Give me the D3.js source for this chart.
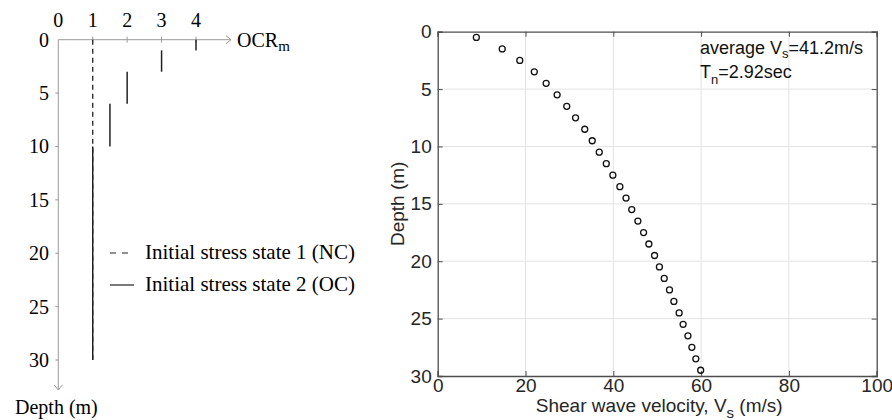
<!DOCTYPE html>
<html>
<head>
<meta charset="utf-8">
<script src="https://cdn.jsdelivr.net/npm/d3@7"></script>
<style>
  body { margin: 0; background: #fff; }
  svg { display: block; }
</style>
</head>
<body>
<div id="chart"></div>
<script>
// ---- left panel data: OCR_m profiles ----
const ocrTicks = [0, 1, 2, 3, 4];
const depthTicksLeft = [0, 5, 10, 15, 20, 25, 30];
// state 1 (NC): OCR = 1 over the whole depth
const ncSegments = [{ ocr: 1, top: 0, bottom: 30 }];
// state 2 (OC): step profile
const ocSegments = [
    { ocr: 4, top: 0, bottom: 1 },
    { ocr: 3, top: 1, bottom: 3 },
    { ocr: 2, top: 3, bottom: 6 },
    { ocr: 1.5, top: 6, bottom: 10 },
    { ocr: 1, top: 10, bottom: 30 }
];
const legendLabels = ['Initial stress state 1 (NC)', 'Initial stress state 2 (OC)'];

// ---- right panel data: shear wave velocity profile ----
const vsDepths = [0.5, 1.5, 2.5, 3.5, 4.5, 5.5, 6.5, 7.5, 8.5, 9.5,
    10.5, 11.5, 12.5, 13.5, 14.5, 15.5, 16.5, 17.5, 18.5, 19.5,
    20.5, 21.5, 22.5, 23.5, 24.5, 25.5, 26.5, 27.5, 28.5, 29.5];
const vsValues = [8.8, 14.7, 18.7, 22.0, 24.7, 27.2, 29.4, 31.4, 33.5, 35.2,
    36.8, 38.4, 39.9, 41.5, 42.9, 44.2, 45.6, 46.9, 48.1, 49.4,
    50.5, 51.6, 52.8, 53.8, 55.0, 55.9, 57.0, 57.9, 58.8, 59.9];
const vsTicks = [0, 20, 40, 60, 80, 100];
const depthTicksRight = [0, 5, 10, 15, 20, 25, 30];

const width = 892, height = 420;
const svg = d3.select('#chart').append('svg')
    .attr('width', width).attr('height', height);

const serif = '"Liberation Serif", "Times New Roman", serif';
const sans = '"Liberation Sans", Arial, sans-serif';
const axisGray = '#9a9a9a';

// ================= left panel =================
const xL = d3.scaleLinear().domain([0, 4]).range([58.3, 196]);
const yL = d3.scaleLinear().domain([0, 30]).range([39.7, 360]);

const left = svg.append('g').attr('class', 'left-panel');

// axis lines with arrows
left.append('line')
    .attr('x1', xL(0)).attr('y1', yL(0)).attr('x2', 231).attr('y2', yL(0))
    .attr('stroke', axisGray).attr('stroke-width', 1);
left.append('path')
    .attr('d', `M${226},${yL(0) - 4} L${231},${yL(0)} L${226},${yL(0) + 4}`)
    .attr('fill', 'none').attr('stroke', axisGray).attr('stroke-width', 1);
left.append('line')
    .attr('x1', xL(0)).attr('y1', yL(0)).attr('x2', xL(0)).attr('y2', 390)
    .attr('stroke', axisGray).attr('stroke-width', 1);
left.append('path')
    .attr('d', `M${xL(0) - 4},${385} L${xL(0)},${390} L${xL(0) + 4},${385}`)
    .attr('fill', 'none').attr('stroke', axisGray).attr('stroke-width', 1);

// x ticks
left.selectAll('.xtick').data(ocrTicks.slice(1)).join('line')
    .attr('x1', d => xL(d)).attr('x2', d => xL(d))
    .attr('y1', yL(0) - 3).attr('y2', yL(0) + 3)
    .attr('stroke', axisGray);
left.selectAll('.xlab').data(ocrTicks).join('text')
    .attr('x', d => xL(d)).attr('y', 27)
    .attr('text-anchor', 'middle')
    .style('font-family', serif).style('font-size', '20px')
    .text(d => d);

// y ticks
left.selectAll('.ytick').data(depthTicksLeft.slice(1)).join('line')
    .attr('x1', xL(0) - 3).attr('x2', xL(0))
    .attr('y1', d => yL(d)).attr('y2', d => yL(d))
    .attr('stroke', axisGray);
left.selectAll('.ylab').data(depthTicksLeft).join('text')
    .attr('x', 49).attr('y', d => yL(d) + 7)
    .attr('text-anchor', 'end')
    .style('font-family', serif).style('font-size', '20px')
    .text(d => d);

// axis titles
const ocrLab = left.append('text')
    .attr('x', 237).attr('y', 47)
    .style('font-family', serif).style('font-size', '20px');
ocrLab.append('tspan').text('OCR');
ocrLab.append('tspan').attr('dy', 4).style('font-size', '15px').text('m');

left.append('text')
    .attr('x', 15).attr('y', 414)
    .style('font-family', serif).style('font-size', '20px')
    .text('Depth (m)');

// profiles
left.selectAll('.nc').data(ncSegments).join('line')
    .attr('x1', d => xL(d.ocr)).attr('x2', d => xL(d.ocr))
    .attr('y1', d => yL(d.top)).attr('y2', d => yL(d.bottom))
    .attr('stroke', '#222').attr('stroke-width', 1.3)
    .attr('stroke-dasharray', '5,4');
left.selectAll('.oc').data(ocSegments).join('line')
    .attr('x1', d => xL(d.ocr)).attr('x2', d => xL(d.ocr))
    .attr('y1', d => yL(d.top)).attr('y2', d => yL(d.bottom))
    .attr('stroke', '#222').attr('stroke-width', 1.5);

// legend
const legend = left.append('g').attr('transform', 'translate(110,253)');
legendLabels.forEach((lab, i) => {
    const g = legend.append('g').attr('transform', `translate(0,${i * 32})`);
    g.append('line')
        .attr('x1', 0).attr('x2', 24).attr('y1', 0).attr('y2', 0)
        .attr('stroke', '#222').attr('stroke-width', 1.2)
        .attr('stroke-dasharray', i === 0 ? '6,6' : null);
    g.append('text')
        .attr('x', 35).attr('y', 6)
        .style('font-family', serif).style('font-size', '21px')
        .text(lab);
});

// ================= right panel =================
const xR = d3.scaleLinear().domain([0, 100]).range([437.7, 876.7]);
const yR = d3.scaleLinear().domain([0, 30]).range([31.7, 376]);

const right = svg.append('g').attr('class', 'right-panel');

// grid
right.selectAll('.gx').data(vsTicks.slice(1, -1)).join('line')
    .attr('x1', d => xR(d)).attr('x2', d => xR(d))
    .attr('y1', yR(0)).attr('y2', yR(30))
    .attr('stroke', '#e3e3e3').attr('stroke-width', 1);
right.selectAll('.gy').data(depthTicksRight.slice(1, -1)).join('line')
    .attr('x1', xR(0)).attr('x2', xR(100))
    .attr('y1', d => yR(d)).attr('y2', d => yR(d))
    .attr('stroke', '#e3e3e3').attr('stroke-width', 1);

// axes (MATLAB style box, ticks inward)
const xAxisB = d3.axisBottom(xR).tickValues(vsTicks).tickSize(-5).tickPadding(2);
const xAxisT = d3.axisTop(xR).tickValues(vsTicks).tickSize(-5).tickFormat('');
const yAxisL = d3.axisLeft(yR).tickValues(depthTicksRight).tickSize(-5).tickPadding(6);
const yAxisR = d3.axisRight(yR).tickValues(depthTicksRight).tickSize(-5).tickFormat('');

const styleAxis = g => {
    g.selectAll('path.domain').attr('stroke', '#4d4d4d').attr('stroke-width', 1.3);
    g.selectAll('.tick line').attr('stroke', '#4d4d4d');
    g.selectAll('.tick text').attr('fill', '#262626')
        .style('font-family', sans).style('font-size', '19px');
};

right.append('g').attr('transform', `translate(0,${yR(30)})`).call(xAxisB).call(styleAxis)
    .selectAll('.tick text').attr('dy', '0.71em');
right.append('g').attr('transform', `translate(0,${yR(0)})`).call(xAxisT).call(styleAxis);
right.append('g').attr('transform', `translate(${xR(0)},0)`).call(yAxisL).call(styleAxis)
    .selectAll('.tick text').attr('dy', '0.32em');
right.append('g').attr('transform', `translate(${xR(100)},0)`).call(yAxisR).call(styleAxis);

// points
const pts = vsDepths.map((d, i) => ({ depth: d, vs: vsValues[i] }));
right.selectAll('circle.pt').data(pts).join('circle')
    .attr('class', 'pt')
    .attr('cx', d => xR(d.vs)).attr('cy', d => yR(d.depth))
    .attr('r', 3)
    .attr('fill', 'none').attr('stroke', '#111').attr('stroke-width', 1.3);

// axis labels
const xlab = right.append('text')
    .attr('x', (xR(0) + xR(100)) / 2 + 2).attr('y', 412)
    .attr('text-anchor', 'middle')
    .attr('fill', '#262626')
    .style('font-family', sans).style('font-size', '19px');
xlab.append('tspan').text('Shear wave velocity, V');
xlab.append('tspan').attr('dy', 6).style('font-size', '15px').text('s');
xlab.append('tspan').attr('dy', -6).text(' (m/s)');

right.append('text')
    .attr('transform', `translate(404,${(yR(0) + yR(30)) / 2}) rotate(-90)`)
    .attr('text-anchor', 'middle')
    .attr('fill', '#262626')
    .style('font-family', sans).style('font-size', '19px')
    .text('Depth (m)');

// annotation
const ann1 = right.append('text')
    .attr('x', 700).attr('y', 54)
    .attr('fill', '#111')
    .style('font-family', sans).style('font-size', '18px');
ann1.append('tspan').text('average V');
ann1.append('tspan').attr('dy', 4).style('font-size', '13px').text('s');
ann1.append('tspan').attr('dy', -4).text('=41.2m/s');

const ann2 = right.append('text')
    .attr('x', 700).attr('y', 78)
    .attr('fill', '#111')
    .style('font-family', sans).style('font-size', '18px');
ann2.append('tspan').text('T');
ann2.append('tspan').attr('dy', 6).style('font-size', '13px').text('n');
ann2.append('tspan').attr('dy', -6).text('=2.92sec');
</script>
</body>
</html>
